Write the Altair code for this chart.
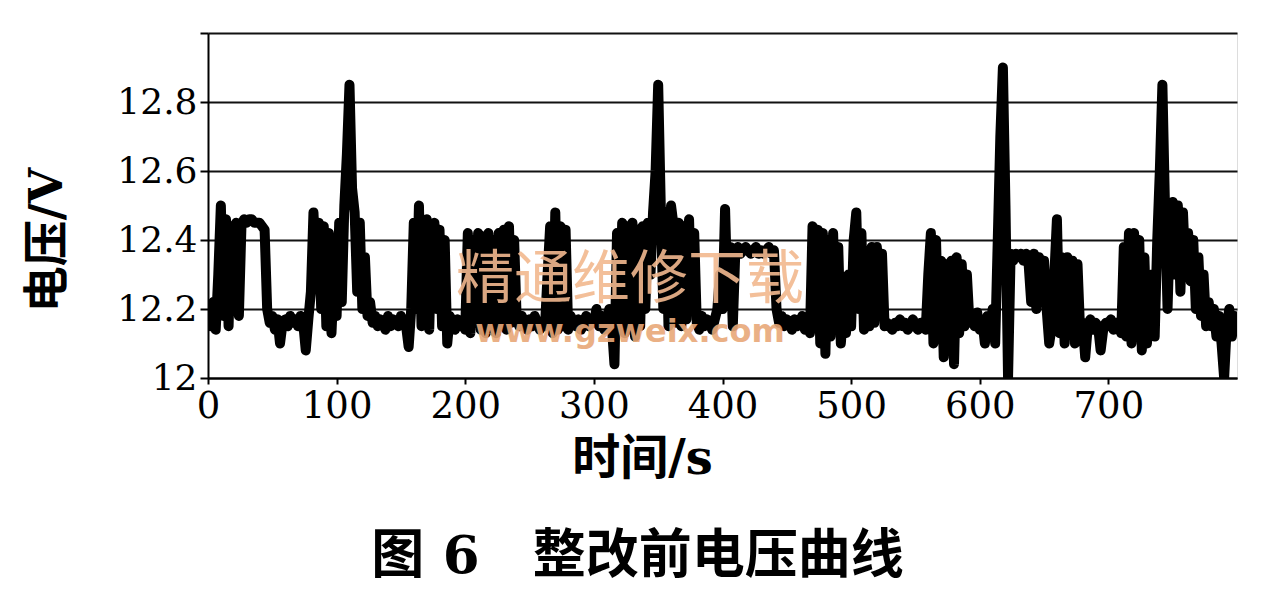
import altair as alt
import pandas as pd

# sample times (s), every 2 s
time_s = list(range(0, 800, 2))

# voltage readings (V)
voltage_v = [
    12.20, 12.15, 12.22, 12.14, 12.30, 12.50, 12.18, 12.46, 12.15, 12.44,
    12.20, 12.45, 12.18, 12.44, 12.46, 12.45, 12.46, 12.46, 12.45, 12.45,
    12.45, 12.44, 12.43, 12.20, 12.16, 12.18, 12.14, 12.17, 12.10, 12.16,
    12.17, 12.15, 12.18, 12.16, 12.17, 12.15, 12.18, 12.16, 12.08, 12.17,
    12.25, 12.48, 12.30, 12.45, 12.20, 12.44, 12.15, 12.42, 12.13, 12.30,
    12.18, 12.45, 12.22, 12.50, 12.65, 12.85, 12.55, 12.48, 12.25, 12.45,
    12.20, 12.35, 12.18, 12.22, 12.16, 12.18, 12.15, 12.17, 12.16, 12.14,
    12.18, 12.15, 12.17, 12.16, 12.15, 12.18, 12.16, 12.15, 12.09, 12.20,
    12.45, 12.20, 12.50, 12.15, 12.44, 12.46, 12.14, 12.42, 12.45, 12.20,
    12.43, 12.15, 12.40, 12.10, 12.18, 12.16, 12.14, 12.17, 12.15, 12.16,
    12.14, 12.42, 12.13, 12.40, 12.16, 12.42, 12.14, 12.41, 12.13, 12.42,
    12.15, 12.40, 12.13, 12.42, 12.15, 12.43, 12.14, 12.44, 12.16, 12.40,
    12.17, 12.15, 12.18, 12.16, 12.14, 12.17, 12.15, 12.18, 12.16, 12.14,
    12.16, 12.15, 12.30, 12.44, 12.13, 12.48, 12.14, 12.44, 12.15, 12.43,
    12.14, 12.18, 12.16, 12.15, 12.17, 12.14, 12.16, 12.18, 12.15, 12.17,
    12.16, 12.20, 12.15, 12.18, 12.14, 12.17, 12.20, 12.15, 12.04, 12.42,
    12.15, 12.45, 12.13, 12.44, 12.16, 12.45, 12.12, 12.43, 12.15, 12.44,
    12.20, 12.45, 12.30, 12.48, 12.60, 12.85, 12.50, 12.20, 12.48, 12.15,
    12.50, 12.44, 12.16, 12.45, 12.15, 12.44, 12.17, 12.46, 12.20, 12.42,
    12.16, 12.14, 12.18, 12.15, 12.17, 12.16, 12.14, 12.17, 12.20, 12.30,
    12.20, 12.49, 12.22, 12.38, 12.15, 12.37, 12.38, 12.36, 12.37, 12.38,
    12.37, 12.36, 12.37, 12.38, 12.36, 12.37, 12.36, 12.37, 12.38, 12.36,
    12.37, 12.20, 12.16, 12.18, 12.15, 12.17, 12.16, 12.14, 12.17, 12.15,
    12.16, 12.18, 12.14, 12.17, 12.13, 12.44, 12.15, 12.43, 12.10, 12.42,
    12.07, 12.40, 12.12, 12.42, 12.15, 12.38, 12.10, 12.20, 12.13, 12.30,
    12.15, 12.40, 12.48, 12.20, 12.42, 12.14, 12.35, 12.15, 12.38, 12.16,
    12.38, 12.20, 12.36, 12.15, 12.16, 12.15, 12.14, 12.16, 12.15, 12.17,
    12.15, 12.16, 12.14, 12.15, 12.17, 12.15, 12.14, 12.16, 12.15, 12.14,
    12.30, 12.42, 12.10, 12.40, 12.12, 12.34, 12.06, 12.33, 12.15, 12.34,
    12.04, 12.35, 12.13, 12.33, 12.15, 12.30, 12.16, 12.18, 12.15, 12.19,
    12.14, 12.17, 12.10, 12.18, 12.14, 12.20, 12.10, 12.40, 12.70, 12.90,
    12.50, 12.00, 12.36, 12.34, 12.36, 12.35, 12.36, 12.34, 12.36, 12.33,
    12.22, 12.36, 12.20, 12.35, 12.22, 12.34, 12.20, 12.10, 12.15, 12.30,
    12.46, 12.13, 12.35, 12.10, 12.35, 12.15, 12.34, 12.10, 12.33, 12.14,
    12.16, 12.06, 12.15, 12.17, 12.14, 12.16, 12.15, 12.08, 12.14, 12.16,
    12.15, 12.17, 12.14, 12.16, 12.15, 12.13, 12.38, 12.12, 12.42, 12.10,
    12.42, 12.12, 12.40, 12.08, 12.35, 12.10, 12.20, 12.30, 12.12, 12.40,
    12.60, 12.85, 12.50, 12.20, 12.45, 12.51, 12.30, 12.50, 12.25, 12.48,
    12.30, 12.42, 12.28, 12.40, 12.20, 12.35, 12.18, 12.30, 12.15, 12.22,
    12.15, 12.20, 12.12, 12.18, 12.10, 12.00, 12.15, 12.20, 12.12, 12.18,
]

x_ticks = [0, 100, 200, 300, 400, 500, 600, 700]
y_ticks = [12, 12.2, 12.4, 12.6, 12.8, 13]

x_title = "时间/s"
y_title = ["电压/V"]
caption = "图 6\u3000整改前电压曲线"
watermark_cn = ["精通维修下载"]
watermark_url = ["www.gzweix.com"]

df = pd.DataFrame({"t": time_s, "v": voltage_v})

FONT = "DejaVu Serif, Noto Sans CJK SC"

line = alt.Chart(df).mark_line(
    color="#000000", strokeWidth=10, strokeJoin="round", strokeCap="round", clip=True
).encode(
    x=alt.X(
        "t:Q",
        scale=alt.Scale(domain=[0, 800], nice=False, zero=False),
        axis=alt.Axis(
            values=x_ticks, title=x_title, grid=False,
            domainColor="#000", domainWidth=2,
            tickColor="#000", tickWidth=2, tickSize=6,
            labelFont=FONT, labelFontSize=37, labelColor="#000", labelPadding=4,
            labelFlush=False,
            titleFont=FONT, titleFontSize=48, titleFontWeight="bold", titleColor="#000",
            titleX=434, titleY=57, titleBaseline="top", titleAlign="center",
        ),
    ),
    y=alt.Y(
        "v:Q",
        scale=alt.Scale(domain=[12, 13], nice=False, zero=False),
        axis=alt.Axis(
            values=y_ticks, format="~g",
            labelExpr="datum.value > 12.9 ? '' : datum.label",
            grid=True, gridColor="#111", gridWidth=2,
            domainColor="#000", domainWidth=2,
            tickColor="#000", tickWidth=2, tickSize=8,
            labelFont=FONT, labelFontSize=36, labelColor="#000", labelPadding=3,
            title=None,
        ),
    ),
)

ytitle = alt.Chart(pd.DataFrame({"w": y_title})).mark_text(
    font=FONT, fontSize=46, fontWeight="bold", color="#000", angle=270,
    align="center", baseline="middle",
).encode(text="w:N", x=alt.value(-160), y=alt.value(207))

wm1 = alt.Chart(pd.DataFrame({"w": watermark_cn})).mark_text(
    font="Noto Sans CJK SC", fontSize=58, fontWeight="normal", color="#f2b98f", opacity=0.9
).encode(text="w:N", x=alt.value(422), y=alt.value(248))

wm2 = alt.Chart(pd.DataFrame({"w": watermark_url})).mark_text(
    font="DejaVu Sans", fontSize=32, fontWeight="bold", color="#e8a878", opacity=0.9
).encode(text="w:N", x=alt.value(422), y=alt.value(299))

chart = alt.layer(line, ytitle, wm1, wm2).properties(
    width=1029,
    height=345,
    autosize=alt.AutoSizeParams(type="none"),
    padding={"left": 200, "top": 25, "right": 18, "bottom": 215},
    title=alt.TitleParams(
        text=caption, orient="bottom", anchor="middle", dx=-85, offset=48,
        font=FONT, fontSize=53, fontWeight="bold", color="#000",
    ),
).configure_view(stroke=None).configure(background="white")

chart.save("out.html", embed_options={"renderer": "svg", "actions": False})
